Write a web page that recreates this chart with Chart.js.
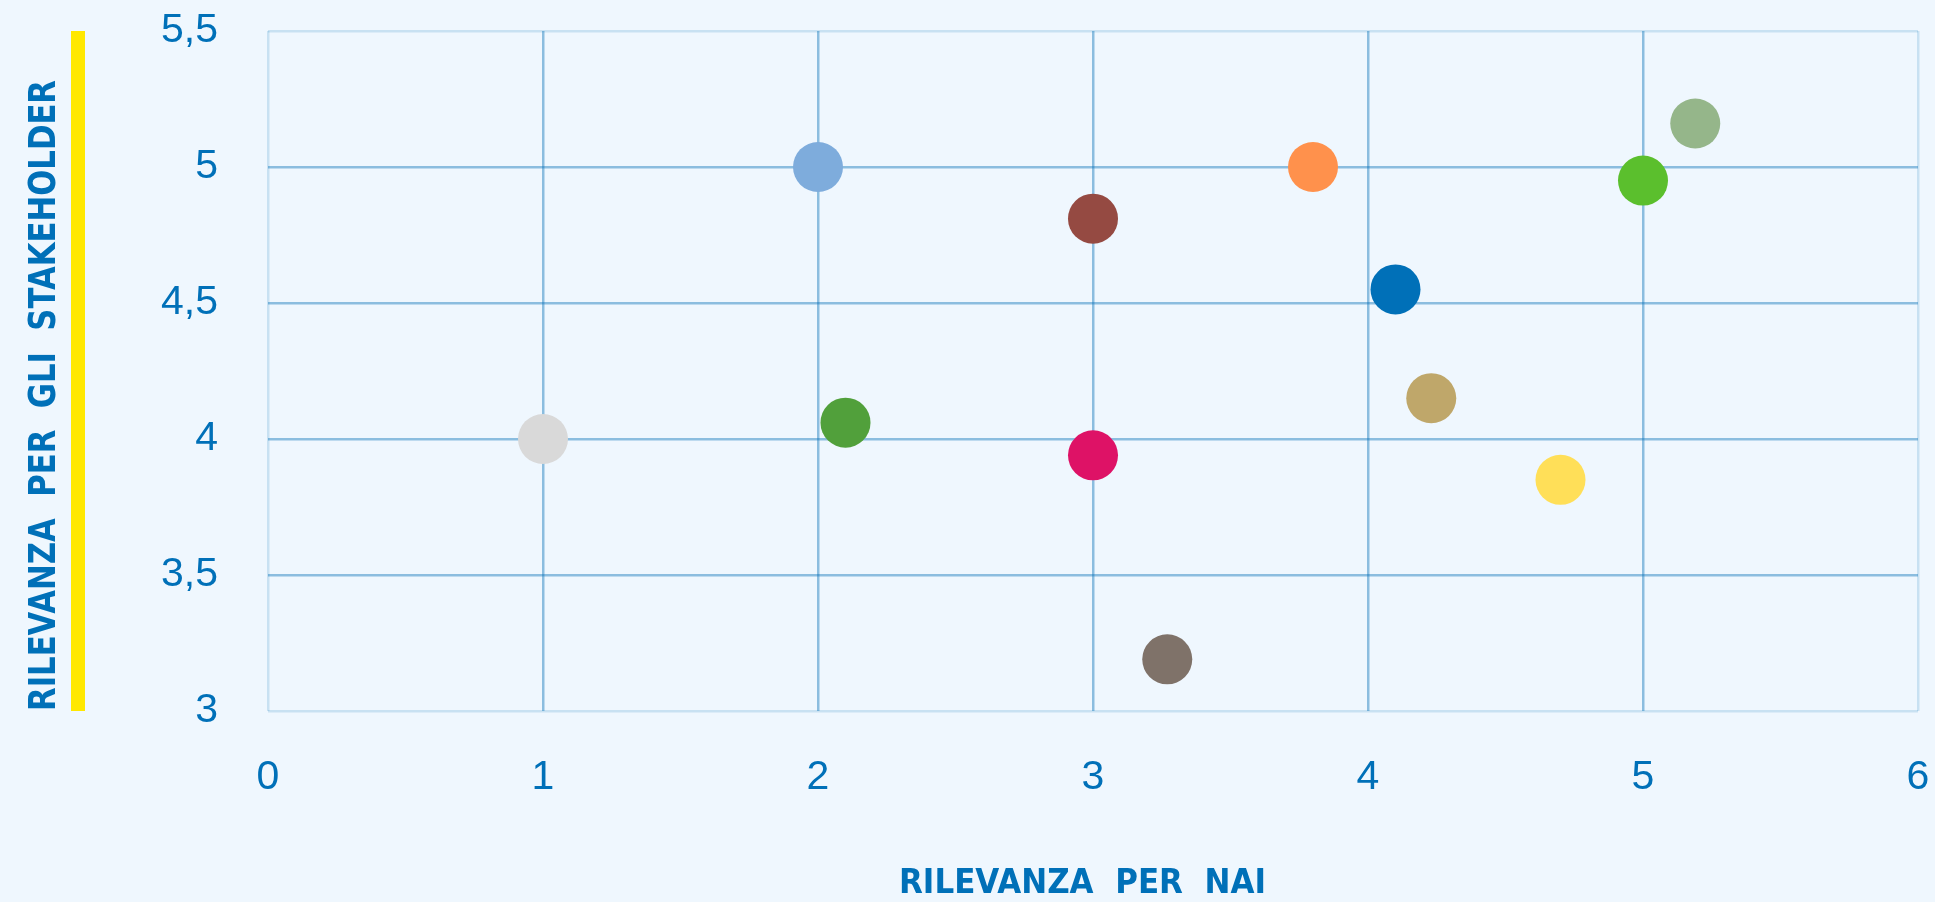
<!DOCTYPE html>
<html>
<head>
<meta charset="utf-8">
<script src="https://cdn.jsdelivr.net/npm/chart.js@4.4.1/dist/chart.umd.min.js"></script>
<style>
  html, body { margin: 0; padding: 0; background: #eff7fe; }
  #wrap { width: 1935px; height: 902px; position: relative; }
</style>
</head>
<body>
<div id="wrap"><canvas id="chart"></canvas></div>
<script>
const xValues = [1, 2, 2.1, 3, 3, 3.27, 3.8, 4.1, 4.23, 4.7, 5, 5.19];
const yValues = [4, 5, 4.06, 4.81, 3.94, 3.19, 5, 4.55, 4.15, 3.85, 4.95, 5.16];
const pointColors = [
  '#d9d9d9', '#7eacdc', '#51a03b', '#954a42', '#de1266', '#7f7269',
  '#ff914c', '#0070b8', '#bfa76a', '#ffdf58', '#5bbf2d', '#95b68a'
];
const xTicks = [0, 1, 2, 3, 4, 5, 6];
const yTicks = [3, 3.5, 4, 4.5, 5, 5.5];
const xTitle = 'RILEVANZA  PER  NAI';
const yTitle = 'RILEVANZA  PER  GLI  STAKEHOLDER';

const blue = '#0070b8';
const gridDark = 'rgba(0, 110, 180, 0.42)';
const gridLight = 'rgba(0, 110, 180, 0.16)';

function gridColor(ctx) {
  const s = ctx.scale;
  if (!ctx.tick) return gridDark;
  const v = ctx.tick.value;
  return (v === s.min || v === s.max) ? gridLight : gridDark;
}

// draws a title squeezed to a given width
function fitText(ctx, text, size, width) {
  ctx.font = 'bold ' + size + 'px "DejaVu Sans"';
  const w = ctx.measureText(text).width;
  ctx.scale(width / w, 1);
  ctx.fillText(text, 0, size * 0.729 / 2);
}

const decor = {
  id: 'decor',
  afterDraw(chart) {
    const ctx = chart.ctx;
    const area = chart.chartArea;
    ctx.save();
    ctx.fillStyle = '#ffe800';
    ctx.fillRect(71, area.top, 14, area.bottom - area.top);

    ctx.fillStyle = blue;
    ctx.textAlign = 'left';
    ctx.textBaseline = 'alphabetic';

    ctx.save();
    ctx.translate(41.5, area.bottom);
    ctx.rotate(-Math.PI / 2);
    fitText(ctx, yTitle, 36.5, 631);
    ctx.restore();

    ctx.save();
    ctx.translate(899, 880);
    fitText(ctx, xTitle, 34.5, 367);
    ctx.restore();
    ctx.restore();
  }
};

new Chart(document.getElementById('chart'), {
  type: 'scatter',
  data: {
    datasets: [{
      data: xValues.map((x, i) => ({ x: x, y: yValues[i] })),
      pointRadius: 25,
      pointHoverRadius: 25,
      pointBackgroundColor: pointColors,
      pointBorderWidth: 0
    }]
  },
  options: {
    responsive: true,
    maintainAspectRatio: false,
    animation: false,
    layout: { autoPadding: false, padding: { top: 31, right: 17, left: 0, bottom: 0 } },
    plugins: {
      legend: { display: false },
      tooltip: { enabled: false }
    },
    scales: {
      x: {
        type: 'linear',
        min: 0,
        max: 6,
        afterBuildTicks: (scale) => { scale.ticks = xTicks.map(v => ({ value: v })); },
        afterFit: (scale) => {
          scale.height = 191;
          scale.paddingLeft = 0; scale.paddingRight = 0;
          scale.paddingTop = 0; scale.paddingBottom = 0;
        },
        border: { display: false },
        grid: { color: gridColor, lineWidth: 2.5, drawTicks: false },
        ticks: {
          color: blue,
          padding: 42,
          font: { family: '"Liberation Sans", Arial', size: 41 },
          callback: (v) => String(v)
        }
      },
      y: {
        type: 'linear',
        min: 3,
        max: 5.5,
        afterBuildTicks: (scale) => { scale.ticks = yTicks.map(v => ({ value: v })); },
        afterFit: (scale) => {
          scale.width = 268;
          scale.paddingLeft = 0; scale.paddingRight = 0;
          scale.paddingTop = 0; scale.paddingBottom = 0;
        },
        border: { display: false },
        grid: { color: gridColor, lineWidth: 2.5, drawTicks: false },
        ticks: {
          color: blue,
          padding: 50,
          font: { family: '"Liberation Sans", Arial', size: 41 },
          callback: (v) => String(v).replace('.', ',')
        }
      }
    }
  },
  plugins: [decor]
});
</script>
</body>
</html>
